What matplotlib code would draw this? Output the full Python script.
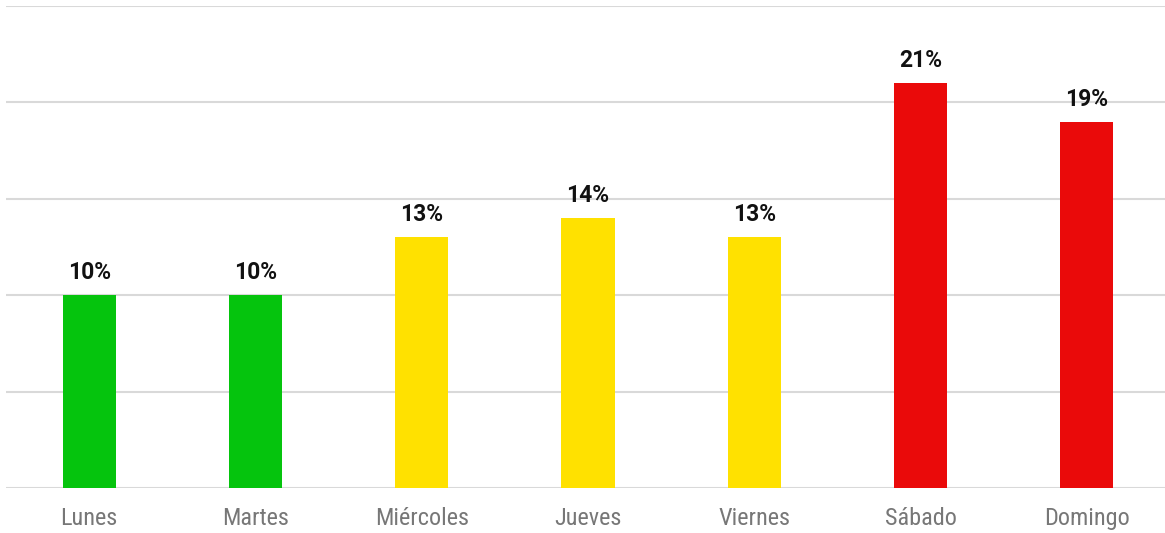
import matplotlib
matplotlib.use("Agg")
import matplotlib.pyplot as plt
from matplotlib import font_manager

days = ["Lunes", "Martes", "Miércoles", "Jueves", "Viernes", "Sábado", "Domingo"]
values = [10, 10, 13, 14, 13, 21, 19]
colors = ["#05C40D", "#05C40D", "#FFE100", "#FFE100", "#FFE100", "#EA0A0A", "#EA0A0A"]
yticks = [0, 5, 10, 15, 20, 25]

avail = {f.name for f in font_manager.fontManager.ttflist}
family = "Roboto"
for cand in ["Roboto Condensed", "Liberation Sans Narrow", "Roboto"]:
    if cand in avail:
        family = cand
        break
plt.rcParams['font.family'] = [family, 'DejaVu Sans']

fig = plt.figure(figsize=(11.65, 5.33), dpi=100)
ax = fig.add_axes([6/1165, 45/533, 1164/1165, 482/533])

x = list(range(len(days)))
bars = ax.bar(x, values, width=0.32, color=colors, zorder=3)
for xi, v in zip(x, values):
    ax.annotate(f"{v}%", (xi, v), xytext=(0, 11.5), textcoords="offset points",
                ha="center", va="baseline", fontsize=16.5, fontweight="bold",
                color="#111111", family=["Roboto", "DejaVu Sans"])

ax.set_xlim(-0.5, 6.5)
ax.set_ylim(0, 25)
ax.set_yticks(yticks)
ax.yaxis.grid(True, color="#d9d9d9", linewidth=1.5, zorder=0)
ax.set_yticklabels([])
ax.tick_params(axis="y", length=0)
ax.set_xticks(x)
ax.set_xticklabels(days, fontsize=17.5, color="#777777")
ax.tick_params(axis="x", length=0, pad=14)
for s in ax.spines.values():
    s.set_visible(False)

fig.savefig("out.png", dpi=100)
